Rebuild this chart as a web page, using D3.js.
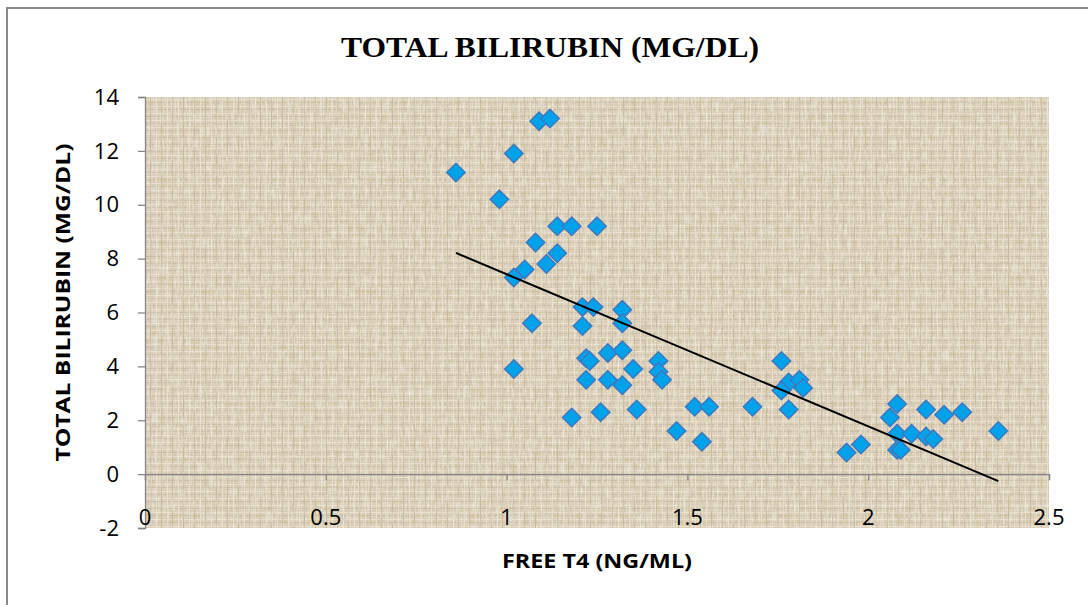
<!DOCTYPE html>
<html>
<head>
<meta charset="utf-8">
<script src="https://cdn.jsdelivr.net/npm/d3@7"></script>
<style>
  html, body { margin: 0; padding: 0; background: #fff; }
  svg { display: block; }
</style>
</head>
<body>
<svg id="chart" width="1088" height="605"></svg>
<script>
// Free T4 (ng/mL) against total bilirubin (mg/dL), one entry per patient
const freeT4 = [
  0.86, 0.98, 1.02, 1.09, 1.12, 1.08, 1.14, 1.18, 1.25, 1.14,
  1.11, 1.05, 1.02, 1.07, 1.02, 1.21, 1.24, 1.32, 1.21, 1.32,
  1.22, 1.23, 1.28, 1.32, 1.35, 1.42, 1.42, 1.43, 1.22, 1.28,
  1.32, 1.18, 1.26, 1.36, 1.47, 1.52, 1.56, 1.54, 1.68, 1.76,
  1.78, 1.76, 1.81, 1.82, 1.78, 2.08, 2.06, 2.16, 2.21, 2.26,
  2.08, 2.12, 2.16, 2.18, 1.94, 1.98, 2.08, 2.09, 2.36
];
const totalBilirubin = [
  11.2, 10.2, 11.9, 13.1, 13.2, 8.6, 9.2, 9.2, 9.2, 8.2,
  7.8, 7.6, 7.3, 5.6, 3.9, 6.2, 6.2, 6.1, 5.5, 5.6,
  4.3, 4.2, 4.5, 4.6, 3.9, 4.2, 3.8, 3.5, 3.5, 3.5,
  3.3, 2.1, 2.3, 2.4, 1.6, 2.5, 2.5, 1.2, 2.5, 4.2,
  3.4, 3.1, 3.5, 3.2, 2.4, 2.6, 2.1, 2.4, 2.2, 2.3,
  1.5, 1.5, 1.4, 1.3, 0.8, 1.1, 0.9, 0.9, 1.6
];
const xTicks = [0, 0.5, 1, 1.5, 2, 2.5];
const yTicks = [-2, 0, 2, 4, 6, 8, 10, 12, 14];

const chartTitle = "TOTAL BILIRUBIN (MG/DL)";
const xTitle = "FREE T4 (NG/ML)";
const yTitle = "TOTAL BILIRUBIN (MG/DL)";

const svg = d3.select("#chart");
const plot = { left: 145, right: 1049, top: 97, bottom: 528 };

const x = d3.scaleLinear().domain([0, 2.5]).range([plot.left, plot.right]);
const y = d3.scaleLinear().domain([-2, 14]).range([plot.bottom, plot.top]);

const labelFont = "'Open Sans', 'Liberation Sans', sans-serif";

// Outer chart frame
svg.append("rect")
  .attr("x", 7).attr("y", 8)
  .attr("width", 1200).attr("height", 800)
  .attr("fill", "none").attr("stroke", "#8a8a8a").attr("stroke-width", 2);

// Woven canvas fill for the plot area
const defs = svg.append("defs");
const pat = defs.append("pattern")
  .attr("id", "canvas").attr("patternUnits", "userSpaceOnUse")
  .attr("width", 11).attr("height", 7);
pat.append("rect").attr("width", 11).attr("height", 7).attr("fill", "#d9cdb4");
pat.append("rect").attr("x", 0).attr("y", 1).attr("width", 11).attr("height", 1).attr("fill", "#e8dfcc");
pat.append("rect").attr("x", 0).attr("y", 4).attr("width", 11).attr("height", 1).attr("fill", "#c9bca1");
pat.append("rect").attr("x", 2).attr("y", 0).attr("width", 1).attr("height", 7).attr("fill", "#e7decb");
pat.append("rect").attr("x", 7).attr("y", 0).attr("width", 1).attr("height", 7).attr("fill", "#c8bb9f");

const grain = defs.append("filter").attr("id", "grain")
  .attr("x", 0).attr("y", 0).attr("width", 1).attr("height", 1);
grain.append("feTurbulence").attr("type", "fractalNoise")
  .attr("baseFrequency", "0.6 0.08").attr("numOctaves", 2).attr("seed", 3).attr("result", "n1");
grain.append("feColorMatrix").attr("in", "n1").attr("type", "matrix")
  .attr("values", "0 0 0 0 0.97  0 0 0 0 0.95  0 0 0 0 0.9  0 0 0 1.1 -0.45").attr("result", "light");
grain.append("feTurbulence").attr("type", "fractalNoise")
  .attr("baseFrequency", "0.08 0.6").attr("numOctaves", 2).attr("seed", 8).attr("result", "n2");
grain.append("feColorMatrix").attr("in", "n2").attr("type", "matrix")
  .attr("values", "0 0 0 0 0.55  0 0 0 0 0.47  0 0 0 0 0.35  0 0 0 0.8 -0.33").attr("result", "dark");
grain.append("feMerge").selectAll("feMergeNode")
  .data(["SourceGraphic", "light", "dark"]).join("feMergeNode").attr("in", d => d);

svg.append("rect")
  .attr("x", plot.left).attr("y", plot.top)
  .attr("width", plot.right - plot.left).attr("height", plot.bottom - plot.top)
  .attr("fill", "url(#canvas)")
  .attr("filter", "url(#grain)");

// Title
svg.append("text")
  .attr("x", 550).attr("y", 57)
  .attr("text-anchor", "middle")
  .attr("textLength", 418).attr("lengthAdjust", "spacingAndGlyphs")
  .attr("font-family", "'Liberation Serif', 'Times New Roman', serif")
  .attr("font-weight", "bold").attr("font-size", 29)
  .attr("fill", "#000")
  .text(chartTitle);

// Y axis line and tick marks on the left edge
const yAxis = svg.append("g")
  .attr("transform", `translate(${plot.left},0)`)
  .call(d3.axisLeft(y).tickValues(yTicks).tickSize(7).tickFormat(""));
yAxis.select(".domain").attr("stroke", "#868686").attr("stroke-width", 1.3);
yAxis.selectAll(".tick line").attr("stroke", "#868686").attr("stroke-width", 1.3);

// X axis crossing at zero
const xAxis = svg.append("g")
  .attr("transform", `translate(0,${y(0)})`)
  .call(d3.axisBottom(x).tickValues(xTicks).tickSize(6).tickFormat(""));
xAxis.select(".domain").attr("stroke", "#868686").attr("stroke-width", 1.3);
xAxis.selectAll(".tick line").attr("stroke", "#868686").attr("stroke-width", 1.3);

// Tick labels: y values right-aligned beside the axis, x values along the bottom edge
svg.append("g").selectAll("text")
  .data(yTicks)
  .join("text")
  .attr("x", plot.left - 26)
  .attr("y", d => y(d))
  .attr("dy", "0.35em")
  .attr("text-anchor", "end")
  .attr("font-family", labelFont).attr("font-size", 22).attr("fill", "#000")
  .text(d => String(d));

svg.append("g").selectAll("text")
  .data(xTicks)
  .join("text")
  .attr("x", d => x(d))
  .attr("y", y(-2) - 3)
  .attr("text-anchor", "middle")
  .attr("font-family", labelFont).attr("font-size", 22).attr("fill", "#000")
  .text(d => String(d));

// Axis titles
svg.append("text")
  .attr("x", 597).attr("y", 568)
  .attr("text-anchor", "middle")
  .attr("textLength", 190).attr("lengthAdjust", "spacingAndGlyphs")
  .attr("font-family", labelFont).attr("font-weight", "bold").attr("font-size", 20)
  .text(xTitle);

svg.append("text")
  .attr("transform", `translate(70,${(plot.top + plot.bottom) / 2 - 10}) rotate(-90)`)
  .attr("text-anchor", "middle")
  .attr("textLength", 318).attr("lengthAdjust", "spacingAndGlyphs")
  .attr("font-family", labelFont).attr("font-weight", "bold").attr("font-size", 20)
  .text(yTitle);

// Least-squares trend line spanning the observed T4 range
const pts = freeT4.map((v, i) => ({ x: v, y: totalBilirubin[i] }));
const mx = d3.mean(freeT4), my = d3.mean(totalBilirubin);
const slope = d3.sum(pts, p => (p.x - mx) * (p.y - my)) / d3.sum(pts, p => (p.x - mx) ** 2);
const intercept = my - slope * mx;
const [x0, x1] = d3.extent(freeT4);

// Markers
const diamond = d3.symbol().type(d3.symbolDiamond2).size(215);
svg.append("g").selectAll("path")
  .data(pts)
  .join("path")
  .attr("transform", d => `translate(${x(d.x)},${y(d.y)})`)
  .attr("d", diamond)
  .attr("fill", "#00a3e9")
  .attr("stroke", "#3f78c0")
  .attr("stroke-width", 1.5);

svg.append("line")
  .attr("x1", x(x0)).attr("y1", y(intercept + slope * x0))
  .attr("x2", x(x1)).attr("y2", y(intercept + slope * x1))
  .attr("stroke", "#000").attr("stroke-width", 2);
</script>
</body>
</html>
